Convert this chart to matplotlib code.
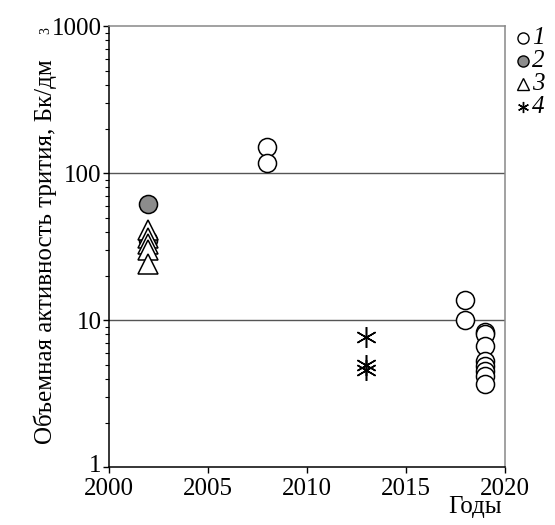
import matplotlib
matplotlib.use("Agg")
import matplotlib.pyplot as plt
from matplotlib.ticker import FixedLocator, NullFormatter, LogLocator
from matplotlib.transforms import ScaledTranslation

plt.rcParams['font.family'] = ['Liberation Serif', 'DejaVu Serif']

# Series 1: open circles
years_1 = [2008, 2008, 2018, 2018, 2019, 2019, 2019, 2019, 2019, 2019, 2019, 2019]
vals_1 = [150, 118, 13.7, 10.0, 8.3, 8.0, 6.7, 5.3, 4.9, 4.5, 4.2, 3.7]

# Series 2: filled grey circles
years_2 = [2002, 2002]
vals_2 = [62, 35]

# Series 3: open triangles
years_3 = [2002, 2002, 2002, 2002, 2002]
vals_3 = [41, 36, 33, 30, 24]

# Series 4: asterisks
years_4 = [2013, 2013, 2013]
vals_4 = [7.7, 5.0, 4.6]

legend_labels = ['1', '2', '3', '4']
x_ticks = [2000, 2005, 2010, 2015, 2020]
y_ticks = [1, 10, 100, 1000]
y_ticklabels = ['1', '10', '100', '1000']

fig = plt.figure(figsize=(5.55, 5.25), dpi=100)
ax = fig.add_axes([0.196, 0.110, 0.714, 0.840])

ax.set_yscale('log')
ax.set_xlim(2000, 2020)
ax.set_ylim(1, 1000)

# horizontal reference lines at each decade
for v in [10, 100]:
    ax.axhline(v, color='#555555', lw=1.0, zorder=1)

ms = 13
ax.plot(years_2, vals_2, 'o', ms=ms, mfc='#8c8c8c', mec='black', mew=1.1, ls='none', zorder=3)
ax.plot(years_3, vals_3, '^', ms=15, mfc='white', mec='black', mew=1.1, ls='none', zorder=4)
ax.plot(years_1, vals_1, 'o', ms=ms, mfc='white', mec='black', mew=1.1, ls='none', zorder=4)
ax.plot(years_4, vals_4, marker=(6, 2, 0), ms=15, mec='black', mew=1.1, ls='none', zorder=4)

ax.xaxis.set_major_locator(FixedLocator(x_ticks))
ax.set_xticklabels([str(t) for t in x_ticks])
ax.yaxis.set_major_locator(FixedLocator(y_ticks))
ax.set_yticklabels(y_ticklabels)
ax.yaxis.set_minor_locator(LogLocator(base=10, subs=range(2, 10)))
ax.yaxis.set_minor_formatter(NullFormatter())

ax.tick_params(axis='both', which='major', direction='out', length=4, width=1,
               labelsize=18, pad=1, color='black')
ax.tick_params(axis='y', which='minor', direction='out', length=3, width=0.8)
ax.tick_params(axis='x', which='major', pad=4)

# lift the lowest y label a little so it clears the first year label
low = ax.get_yticklabels()[0]
low.set_transform(low.get_transform() + ScaledTranslation(0, 3 / 72, fig.dpi_scale_trans))

for s in ['left', 'bottom']:
    ax.spines[s].set_color('black')
    ax.spines[s].set_linewidth(1.1)
for s in ['top', 'right']:
    ax.spines[s].set_color('#888888')
    ax.spines[s].set_linewidth(1.1)

ax.set_ylabel('Объемная активность трития, Бк/дм', fontsize=18)
ax.yaxis.set_label_coords(-0.13, 0.49)
fig.text(0.082, 0.942, '3', fontsize=10, rotation=90, ha='center', va='center')

fig.text(0.905, 0.022, 'Годы', fontsize=18, ha='right', va='baseline')

# legend column on the right
leg_y = [0.928, 0.884, 0.840, 0.797]
leg_markers = [
    dict(marker='o', mfc='white', mec='black'),
    dict(marker='o', mfc='#8c8c8c', mec='black'),
    dict(marker='^', mfc='white', mec='black'),
    dict(marker=(6, 2, 0), mec='black'),
]
for y, lab, mk in zip(leg_y, legend_labels, leg_markers):
    fig.add_artist(plt.Line2D([0.942], [y], transform=fig.transFigure, ls='none',
                              ms=8, mew=1.0, **mk))
    fig.text(0.958, y, lab, fontsize=18, style='italic', ha='left', va='center')

fig.savefig('out.png', dpi=100)
